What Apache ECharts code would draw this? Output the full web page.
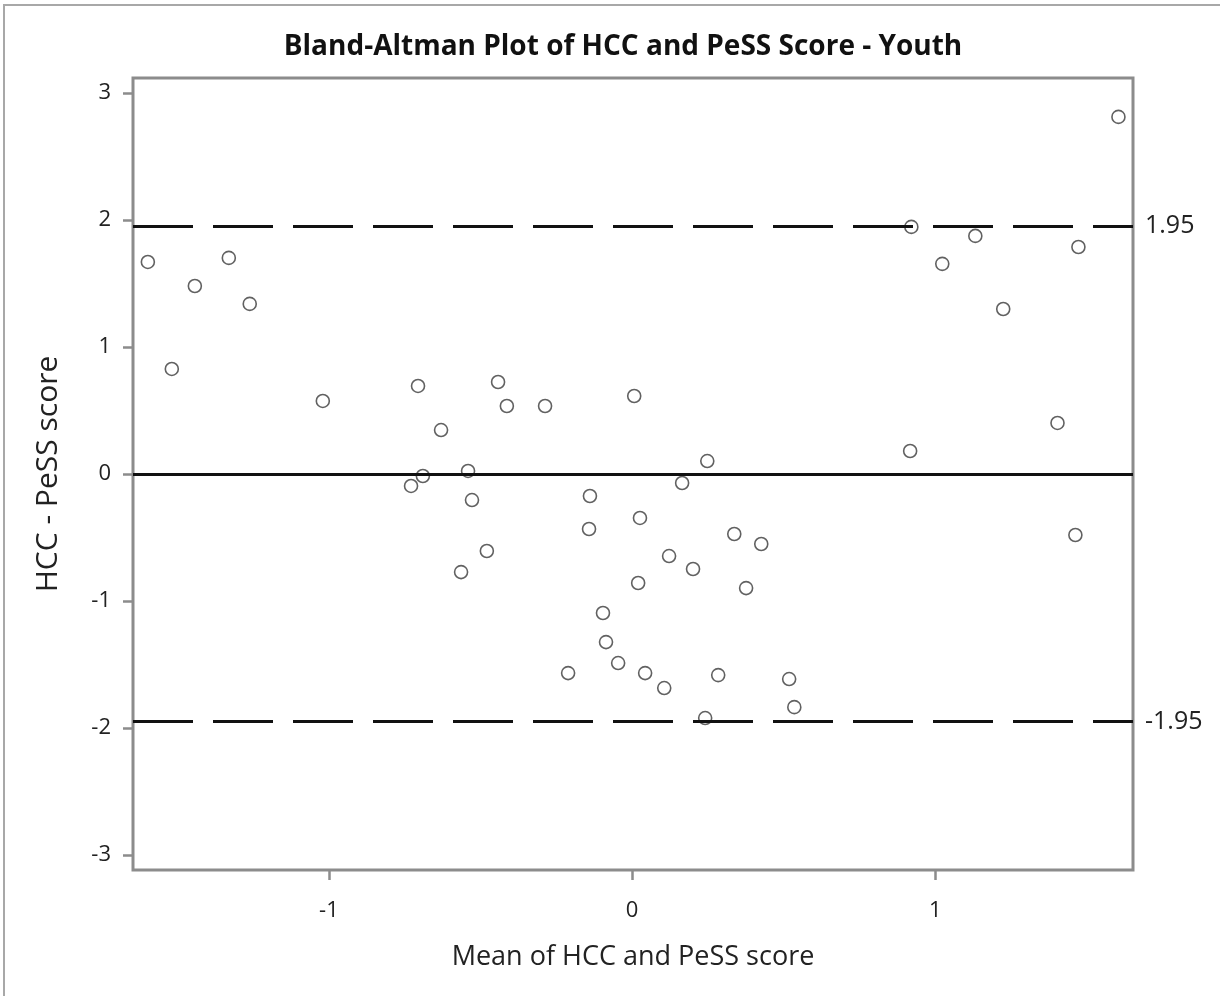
<!DOCTYPE html>
<html style="height: 100%">
<head>
    <meta charset="utf-8">
</head>
<body style="height: 100%; margin: 0; background: #fff">
<div id="container" style="width: 1220px; height: 996px"></div>

<script type="text/javascript" src="https://cdn.jsdelivr.net/npm/echarts@6/dist/echarts.min.js"></script>
<script type="text/javascript">
    // mean of the two scores (x) and their difference (y), one pair per subject
    var meanVals = [
        -1.597, -1.518, -1.442, -1.330, -1.261, -1.020, -0.706, -0.630,
        -0.729, -0.690, -0.541, -0.528, -0.564, -0.479, -0.442, -0.413,
        -0.287, -0.139, -0.142, 0.007, 0.026, -0.211, -0.096, -0.086,
        -0.046, 0.020, 0.043, 0.106, 0.122, 0.165, 0.201, 0.248,
        0.241, 0.284, 0.337, 0.376, 0.426, 0.518, 0.535, 0.917,
        0.921, 1.023, 1.132, 1.224, 1.403, 1.462, 1.472, 1.604
    ];
    var diffVals = [
        1.669, 0.827, 1.480, 1.701, 1.339, 0.575, 0.693, 0.346,
        -0.094, -0.016, 0.024, -0.205, -0.772, -0.606, 0.724, 0.535,
        0.535, -0.173, -0.433, 0.614, -0.346, -1.567, -1.094, -1.323,
        -1.488, -0.858, -1.567, -1.685, -0.646, -0.071, -0.748, 0.102,
        -1.921, -1.583, -0.472, -0.898, -0.551, -1.614, -1.835, 0.181,
        1.945, 1.654, 1.874, 1.299, 0.402, -0.480, 1.787, 2.811
    ];
    var xTicks = [-1, 0, 1];
    var yTicks = [-3, -2, -1, 0, 1, 2, 3];
    var upperLimit = 1.95;
    var lowerLimit = -1.95;
    var meanDiff = 0;

    var points = meanVals.map(function (m, i) { return [m, diffVals[i]]; });

    var dom = document.getElementById("container");
    var myChart = echarts.init(dom, null, { renderer: 'canvas' });

    var fontName = '"Open Sans", "DejaVu Sans", sans-serif';
    var frameColor = '#8c8c8c';

    var option = {
        animation: false,
        backgroundColor: '#fff',
        title: {
            text: 'Bland-Altman Plot of HCC and PeSS Score - Youth',
            left: 618,
            top: 28,
            textAlign: 'center',
            textStyle: { fontFamily: fontName, fontSize: 28, fontWeight: 'bold', color: '#111' }
        },
        graphic: [{
            type: 'rect',
            shape: { x: 4, y: 5, width: 1400, height: 1200 },
            style: { fill: 'none', stroke: '#a8a8a8', lineWidth: 2 },
            silent: true
        }],
        grid: {
            left: 133, top: 78, width: 1000, height: 792,
            show: true, borderColor: frameColor, borderWidth: 3,
            backgroundColor: 'transparent'
        },
        xAxis: {
            type: 'value',
            min: -1.646, max: 1.652,
            name: 'Mean of HCC and PeSS score',
            nameLocation: 'middle',
            nameGap: 74,
            nameTextStyle: { fontFamily: fontName, fontSize: 27, color: '#222' },
            axisLine: { show: false, onZero: false },
            splitLine: { show: false },
            axisTick: {
                show: true, length: 10, customValues: xTicks,
                lineStyle: { color: frameColor, width: 2.5 }
            },
            axisLabel: {
                customValues: xTicks, margin: 30,
                fontFamily: fontName, fontSize: 22, color: '#222'
            }
        },
        yAxis: {
            type: 'value',
            min: -3.117, max: 3.117,
            name: 'HCC - PeSS score',
            nameLocation: 'middle',
            nameGap: 70,
            nameTextStyle: { fontFamily: fontName, fontSize: 30, color: '#222' },
            axisLine: { show: false, onZero: false },
            splitLine: { show: false },
            axisTick: {
                show: true, length: 10, customValues: yTicks,
                lineStyle: { color: frameColor, width: 2.5 }
            },
            axisLabel: {
                customValues: yTicks, margin: 22,
                fontFamily: fontName, fontSize: 22, color: '#222'
            }
        },
        series: [{
            type: 'scatter',
            data: points,
            symbol: 'circle',
            symbolSize: 13,
            itemStyle: { color: 'rgba(0,0,0,0)', borderColor: '#3a3a3a', borderWidth: 1.6 },
            markLine: {
                silent: true,
                symbol: 'none',
                precision: 2,
                data: [
                    {
                        yAxis: upperLimit,
                        lineStyle: { type: [60, 20], width: 3, color: '#111' },
                        label: { show: true, formatter: String(upperLimit) }
                    },
                    {
                        yAxis: meanDiff,
                        lineStyle: { type: 'solid', width: 3, color: '#111' },
                        label: { show: false }
                    },
                    {
                        yAxis: lowerLimit,
                        lineStyle: { type: [60, 20], width: 3, color: '#111' },
                        label: { show: true, formatter: String(lowerLimit) }
                    }
                ],
                label: {
                    position: 'end', distance: 12,
                    fontFamily: fontName, fontSize: 25, color: '#222'
                }
            }
        }]
    };

    myChart.setOption(option);
</script>
</body>
</html>
